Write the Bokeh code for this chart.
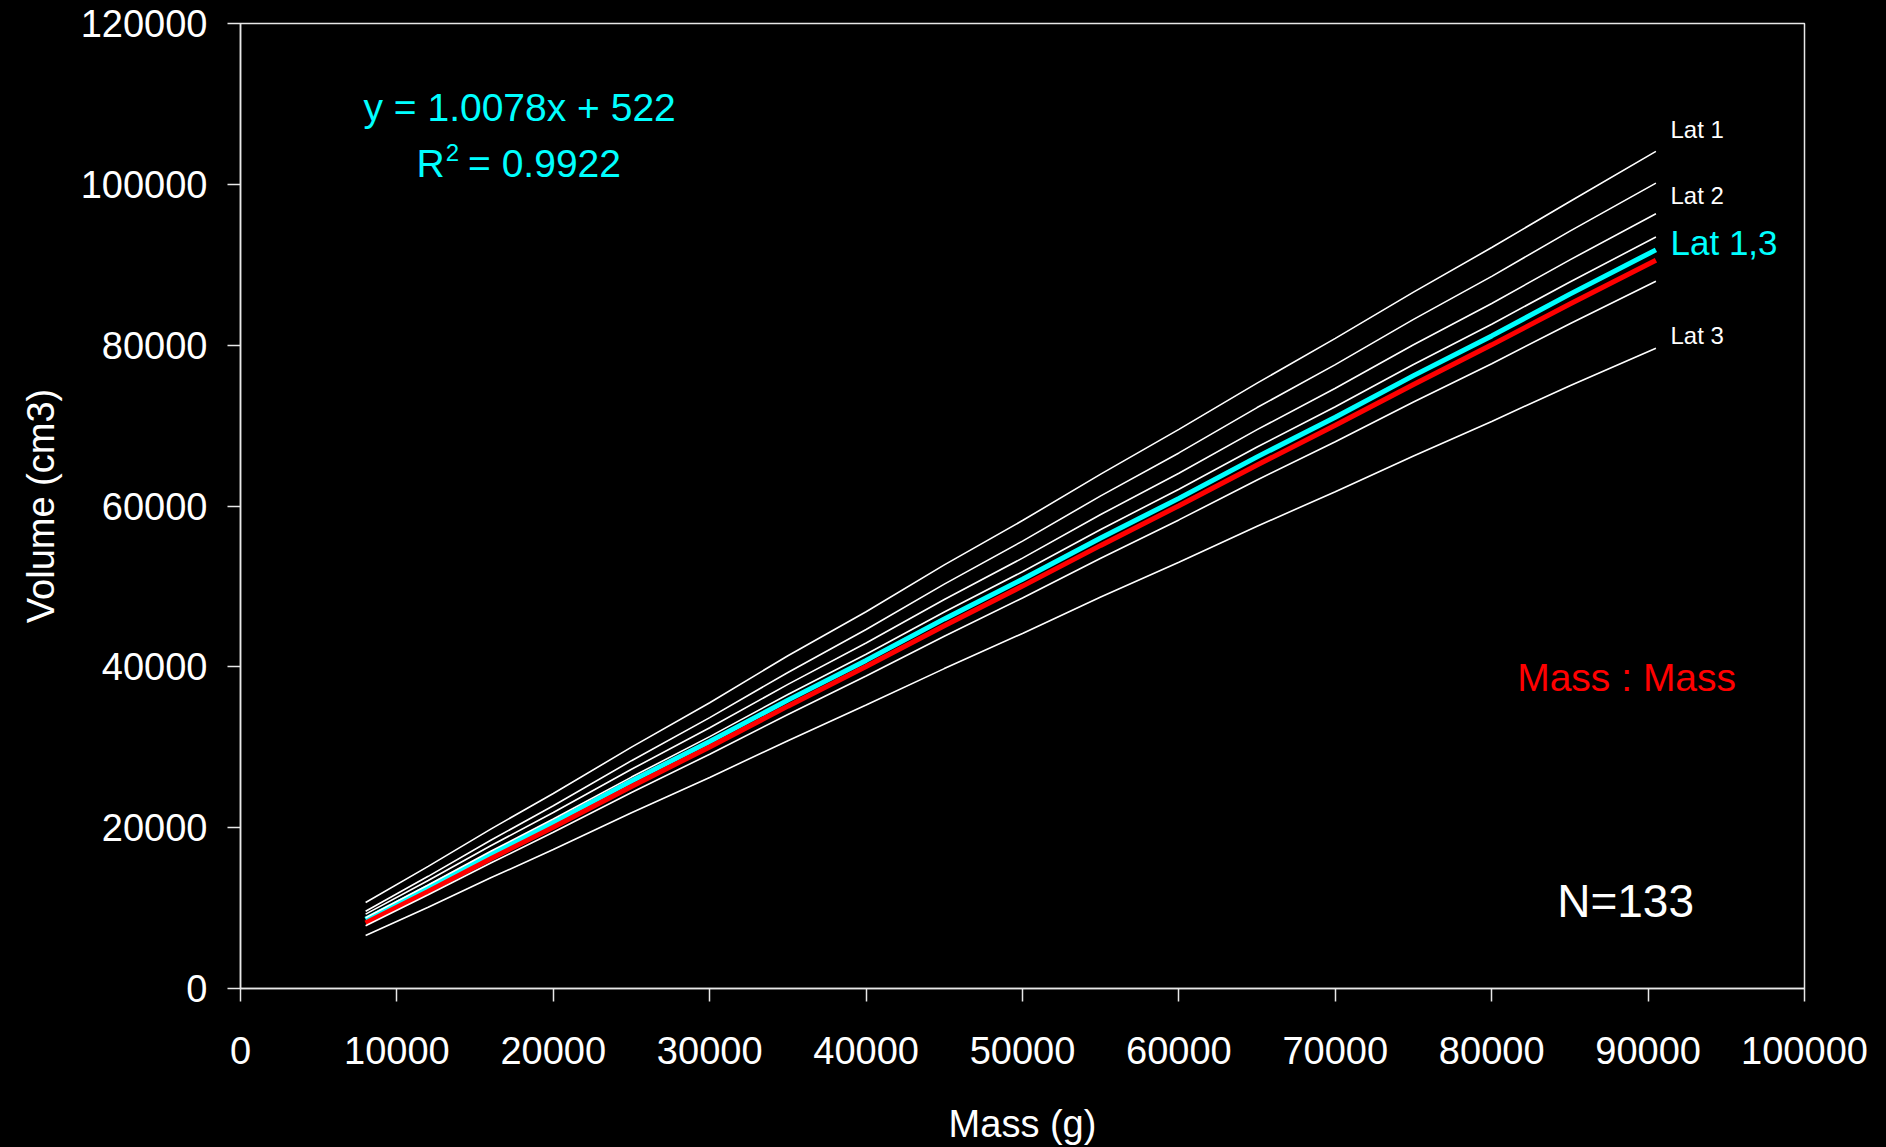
from bokeh.plotting import figure
from bokeh.models import Range1d, FixedTicker, BasicTickFormatter, Label
from bokeh.embed import file_html
from bokeh.resources import INLINE

# ---- data ----
mass = [8000, 12000, 16000, 20000, 25000, 30000, 35000, 40000, 45000, 50000,
        55000, 60000, 65000, 70000, 75000, 80000, 85000, 90500]
lat1 = [10700, 15180, 19820, 24250, 30010, 35540, 41380, 46850, 52680, 58190,
        63960, 69530, 75280, 80840, 86590, 92140, 97870, 104100]
lat2 = [9600, 13950, 18440, 22720, 28330, 33690, 39300, 44650, 50290, 55630,
        61260, 66600, 72240, 77580, 83210, 88560, 94180, 100150]
mid_a = [9250, 13430, 17760, 21880, 27260, 32420, 37820, 42970, 48380, 53520,
         58940, 64080, 69500, 74640, 80050, 85190, 90610, 96350]
mid_b = [8800, 12870, 17060, 21070, 26290, 31320, 36560, 41570, 46820, 51830,
         57080, 62090, 67340, 72350, 77600, 82610, 87860, 93450]
lat13 = [8600, 12620, 16700, 20660, 25800, 30710, 35860, 40800, 45960, 50900,
         56020, 60950, 66110, 71040, 76210, 81150, 86350, 91850]
mass_mass = [8150, 12080, 16130, 20060, 25130, 30040, 35110, 40050, 45110, 50040,
             55100, 60040, 65100, 70040, 75100, 80040, 85110, 90550]
mid_c = [7800, 11650, 15610, 19420, 24370, 29130, 34080, 38850, 43800, 48560,
         53510, 58270, 63230, 67990, 72940, 77700, 82660, 87950]
lat3 = [6580, 10100, 13760, 17280, 21850, 26250, 30820, 35250, 39780, 44150,
        48680, 53000, 57480, 61780, 66230, 70520, 74960, 79630]

x_ticks = [0, 10000, 20000, 30000, 40000, 50000, 60000, 70000, 80000, 90000, 100000]
y_ticks = [0, 20000, 40000, 60000, 80000, 100000, 120000]

FONT = "Liberation Sans"

p = figure(width=1886, height=1147, output_backend="svg", toolbar_location=None,
           x_range=Range1d(0, 100000), y_range=Range1d(0, 120000),
           min_border_left=240, min_border_right=82, min_border_top=23,
           min_border_bottom=157)
p.background_fill_color = "black"
p.border_fill_color = "black"
p.outline_line_color = "#e8e8e8"
p.outline_line_width = 1.5
p.xgrid.visible = False
p.ygrid.visible = False

for ax, ticks in ((p.xaxis, x_ticks), (p.yaxis, y_ticks)):
    ax.ticker = FixedTicker(ticks=ticks)
    ax.formatter = BasicTickFormatter(use_scientific=False)
    ax.axis_line_color = "#e8e8e8"
    ax.axis_line_width = 1.5
    ax.major_tick_line_color = "#e8e8e8"
    ax.major_tick_line_width = 1.5
    ax.major_tick_out = 13
    ax.major_tick_in = 0
    ax.minor_tick_line_color = None
    ax.major_label_text_color = "white"
    ax.major_label_text_font = FONT
    ax.major_label_text_font_size = "38px"
    ax.axis_label_text_color = "white"
    ax.axis_label_text_font = FONT
    ax.axis_label_text_font_size = "38px"
    ax.axis_label_text_font_style = "normal"

p.xaxis.axis_label = "Mass (g)"
p.yaxis.axis_label = "Volume (cm3)"
p.xaxis.major_label_standoff = 35
p.yaxis.major_label_standoff = 20
p.xaxis.axis_label_standoff = 36
p.yaxis.axis_label_standoff = 16

# thick lines
p.line(mass, lat13, line_color="#00ffff", line_width=5)
p.line(mass, mass_mass, line_color="#ff0000", line_width=5)
# thin white lines
for ys in (lat1, lat2, mid_a, mid_b, mid_c, lat3):
    p.line(mass, ys, line_color="white", line_width=1.6)

def lab(x, y, text, color, size, align="left"):
    p.add_layout(Label(x=x, y=y, text=text, text_color=color, text_font=FONT,
                       text_font_size=size, text_align=align,
                       text_baseline="alphabetic"))

lab(7865, 109560, "y = 1.0078x + 522", "#00ffff", "39px")
lab(11250, 102552, "R", "#00ffff", "39px")
lab(13120, 103954, "2", "#00ffff", "24px")
lab(14550, 102552, "= 0.9922", "#00ffff", "39px")

lab(91432, 106770, "Lat 1", "white", "24px")
lab(91432, 98617, "Lat 2", "white", "24px")
lab(91432, 92822, "Lat 1,3", "#00ffff", "35px")
lab(91432, 81245, "Lat 3", "white", "24px")

lab(81630, 38717, "Mass : Mass", "#ff0000", "39px")
lab(84188, 10821, "N=133", "white", "46px")

html = file_html(p, INLINE)
html = html.replace("<head>", "<head><style>html,body{background:#000;}</style>", 1)
open("out.html", "w").write(html)
